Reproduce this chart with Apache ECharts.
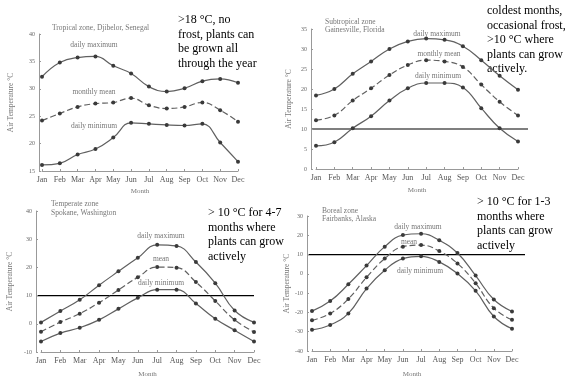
<!DOCTYPE html>
<html>
<head>
<meta charset="utf-8">
<script src="https://cdn.jsdelivr.net/npm/echarts@6/dist/echarts.min.js"></script>
<style>
  html, body { margin: 0; padding: 0; background: #fff; }
  #chart { width: 577px; height: 379px; }
</style>
</head>
<body>
<div id="chart"></div>
<script>
var months = ['Jan', 'Feb', 'Mar', 'Apr', 'May', 'Jun', 'Jul', 'Aug', 'Sep', 'Oct', 'Nov', 'Dec'];

// Tropical zone, Djibelor, Senegal
var tropMax = [32.2, 34.8, 35.7, 35.9, 34.2, 32.8, 30.4, 29.5, 30.1, 31.4, 31.8, 31.1];
var tropMean = [24.2, 25.5, 26.7, 27.3, 27.5, 28.3, 27.0, 26.4, 26.7, 27.5, 26.1, 24.0];
var tropMin = [16.1, 16.4, 18.0, 19.0, 21.1, 23.8, 23.6, 23.4, 23.3, 23.6, 20.2, 16.7];

// Subtropical zone, Gainesville, Florida
var subMax = [18.4, 20.0, 23.8, 26.9, 30.0, 31.9, 32.6, 32.3, 30.7, 27.2, 23.3, 19.8];
var subMean = [12.2, 13.4, 17.1, 20.2, 23.5, 26.0, 27.2, 26.9, 25.5, 21.1, 16.8, 13.4];
var subMin = [5.8, 6.7, 10.2, 13.2, 17.1, 20.2, 21.5, 21.5, 20.4, 15.2, 10.2, 6.9];

// Temperate zone, Spokane, Washington
var tempMax = [0.5, 4.5, 8.5, 13.7, 18.6, 23.4, 28.0, 27.6, 21.9, 14.4, 4.7, 0.5];
var tempMean = [-2.8, 0.6, 3.6, 7.5, 12.0, 16.5, 20.1, 19.9, 14.8, 8.1, 1.4, -2.9];
var tempMin = [-6.3, -3.3, -1.4, 1.4, 5.3, 9.2, 12.1, 12.1, 7.2, 1.8, -2.3, -6.3];

// Boreal zone, Fairbanks, Alaska
var borMax = [-19.3, -14.1, -5.4, 4.3, 14.1, 20.1, 20.8, 17.4, 10.8, -0.9, -13.3, -19.5];
var borMean = [-24.1, -20.5, -13.0, -1.8, 7.9, 14.1, 14.9, 11.8, 5.4, -4.9, -17.8, -23.8];
var borMin = [-29.0, -26.5, -20.5, -7.6, 1.9, 7.9, 9.1, 6.2, 0.2, -8.8, -22.1, -28.5];

var threshold = 10;

var serif = '"Liberation Serif", "Times New Roman", serif';
var grey = '#777';

var panels = [
    { grid: { left: 42, top: 34, width: 196, height: 137 }, min: 15, max: 40, step: 5, offset: 3, nameGap: 24, monthGap: 17,
      data: [tropMax, tropMean, tropMin], line: false },
    { grid: { left: 316, top: 29, width: 202, height: 140 }, min: 0, max: 35, step: 5, offset: 5, nameGap: 18, monthGap: 18,
      data: [subMax, subMean, subMin], line: true, lineFrom: 311, lineTo: 528 },
    { grid: { left: 41, top: 211, width: 213, height: 142 }, min: -10, max: 40, step: 10, offset: 5, nameGap: 22, monthGap: 19,
      data: [tempMax, tempMean, tempMin], line: true, lineFrom: 36, lineTo: 254 },
    { grid: { left: 312, top: 216, width: 200, height: 140 }, min: -40, max: 30, step: 10, offset: 5, nameGap: 13, monthGap: 20,
      data: [borMax, borMean, borMin], line: true, lineFrom: 308, lineTo: 525 }
];

function makeSeries() {
    var serie = [];
    for (var i = 0; i < panels.length; i++) {
        for (var j = 0; j < 3; j++) {
            serie.push({
                type: 'line',
                xAxisIndex: i,
                yAxisIndex: i,
                data: panels[i].data[j],
                smooth: 0.45,
                symbol: 'circle',
                symbolSize: 4,
                itemStyle: { color: '#3a3a3a' },
                lineStyle: { color: '#606060', width: 1.2, type: j == 1 ? [6, 3] : 'solid' },
                animation: false,
                silent: true
            });
        }
    }
    return serie;
}

function label(text, x, y, size, color, align) {
    return {
        type: 'text', x: x, y: y, silent: true,
        style: { text: text, font: size + 'px ' + serif, fill: color, align: align || 'left', verticalAlign: 'middle' }
    };
}

function note(text, x, y) {
    return {
        type: 'text', x: x, y: y, silent: true,
        style: { text: text, font: '12px ' + serif, fill: '#000', lineHeight: 14.5, verticalAlign: 'top' }
    };
}

function madeChart() {
    var myChart = echarts.init(document.getElementById('chart'));
    var grids = [], xAxes = [], yAxes = [];
    for (var i = 0; i < panels.length; i++) {
        var p = panels[i];
        grids.push(p.grid);
        xAxes.push({
            type: 'category', gridIndex: i, data: months, boundaryGap: false,
            name: 'Month', nameLocation: 'middle', nameGap: p.monthGap,
            nameTextStyle: { fontFamily: serif, fontSize: 7, color: grey },
            axisLine: { onZero: false, lineStyle: { color: '#999', width: 1 } },
            axisTick: { inside: true, length: 2, interval: 0, lineStyle: { color: '#999' } },
            axisLabel: { interval: 0, hideOverlap: false, fontFamily: serif, fontSize: 8, color: '#555', margin: 5 },
            splitLine: { show: false }
        });
        yAxes.push({
            type: 'value', gridIndex: i, min: p.min, max: p.max, interval: p.step, offset: p.offset,
            name: 'Air Temperature \u00b0C', nameLocation: 'middle', nameGap: p.nameGap,
            nameTextStyle: { fontFamily: serif, fontSize: 7.5, color: grey },
            axisLine: { show: true, onZero: false, lineStyle: { color: '#999', width: 1 } },
            axisTick: { show: true, inside: true, length: 2, lineStyle: { color: '#999' } },
            axisLabel: { fontFamily: serif, fontSize: 6, color: '#666', margin: 4 },
            splitLine: { show: false }
        });
    }

    var option = {
        backgroundColor: '#fff',
        animation: false,
        grid: grids,
        xAxis: xAxes,
        yAxis: yAxes,
        series: makeSeries()
    };
    myChart.setOption(option);

    var g = [
        label('Tropical zone, Djibelor, Senegal', 52, 28, 7.5, grey),
        label('daily maximum', 94, 45, 7.5, grey, 'center'),
        label('monthly mean', 94, 92, 7.5, grey, 'center'),
        label('daily minimum', 94, 126, 7.5, grey, 'center'),
        note('>18 \u00b0C, no\nfrost, plants can\nbe grown all\nthrough the year', 178, 13),

        label('Subtropical zone', 325, 22, 7.5, grey),
        label('Gainesville, Florida', 325, 30, 7.5, grey),
        label('daily maximum', 437, 34, 7.5, grey, 'center'),
        label('monthly mean', 439, 54, 7.5, grey, 'center'),
        label('daily minimum', 438, 76, 7.5, grey, 'center'),
        note('coldest months,\noccasional frost,\n>10 \u00b0C where\nplants can grow\nactively.', 487, 4),

        label('Temperate zone', 51, 204, 7.5, grey),
        label('Spokane, Washington', 51, 213, 7.5, grey),
        label('daily maximum', 161, 236, 7.5, grey, 'center'),
        label('mean', 161, 259, 7.5, grey, 'center'),
        label('daily minimum', 161, 283, 7.5, grey, 'center'),
        note('> 10 \u00b0C for 4-7\nmonths where\nplants can grow\nactively', 208, 206),

        label('Boreal zone', 322, 211, 7.5, grey),
        label('Fairbanks, Alaska', 322, 219, 7.5, grey),
        label('daily maximum', 418, 227, 7.5, grey, 'center'),
        label('mean', 409, 242, 7.5, grey, 'center'),
        label('daily minimum', 420, 271, 7.5, grey, 'center'),
        note('> 10 \u00b0C for 1-3\nmonths where\nplants can grow\nactively', 477, 195)
    ];

    // black threshold lines at 10 °C, placed through each panel's own y scale
    for (var k = 0; k < panels.length; k++) {
        if (!panels[k].line) continue;
        var y = myChart.convertToPixel({ yAxisIndex: k }, threshold);
        g.push({
            type: 'line', silent: true,
            shape: { x1: panels[k].lineFrom, y1: y, x2: panels[k].lineTo, y2: y },
            style: { stroke: '#000', lineWidth: 1.2 }
        });
    }

    myChart.setOption({ graphic: g });
}

madeChart();
</script>
</body>
</html>
